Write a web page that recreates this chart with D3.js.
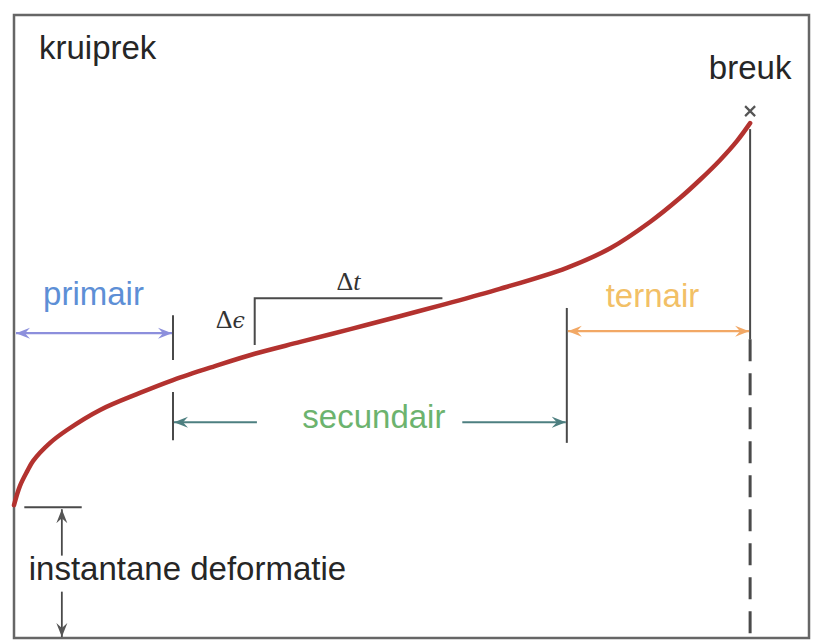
<!DOCTYPE html>
<html>
<head>
<meta charset="utf-8">
<script src="https://cdn.jsdelivr.net/npm/d3@7"></script>
<style>
  body { margin: 0; background: #fff; }
  svg { display: block; }
  text { font-family: "Liberation Sans", Arial, sans-serif; }
</style>
</head>
<body>
<div id="chart"></div>
<script>
// kruipkromme: rek tegen tijd (tijd en rek in willekeurige eenheden, breuk bij t = 100)
const time   = [0, 0.8, 1.8, 2.6, 4.9, 7.2, 11.7, 17.1, 21.6, 27.3, 32.7, 38.9, 45.7, 52.4, 58.2, 66.0, 75.1, 81.0, 86.4, 90.5, 93.2, 95.9, 98.2, 100];
const strain = [25.8, 29.5, 32.4, 34.4, 37.9, 40.4, 44.3, 47.6, 50.1, 52.8, 55.2, 57.5, 60.0, 62.5, 64.7, 67.8, 71.9, 75.7, 80.8, 85.5, 89.0, 92.8, 96.5, 100];

const phases     = ["primair", "secundair", "ternair"];
const phaseStart = [0, 21.6, 75.1];
const phaseEnd   = [21.6, 75.1, 100];
const phaseLevel = [59.2, 41.9, 59.6];

const instantStrain = 25.4;
const breakTime = 100;
const breakStrain = 100;

// hellingsdriehoek secundair gebied
const slopeT = [32.7, 58.2];
const slopeE = [56.9, 66.0];

const width = 821, height = 640;

const x = d3.scaleLinear().domain([0, 108]).range([14, 809]);
const y = d3.scaleLinear().domain([0, 121]).range([638, 15]);

const svg = d3.select("#chart").append("svg")
    .attr("width", width)
    .attr("height", height);

const defs = svg.append("defs");
const arrowColors = { prim: "#8c8fdc", sec: "#4d7f80", ter: "#f2a865", gray: "#555" };
Object.entries(arrowColors).forEach(([k, c]) => {
    defs.append("marker")
        .attr("id", "head-" + k)
        .attr("viewBox", "-14 -7 16 14")
        .attr("refX", 0).attr("refY", 0)
        .attr("markerWidth", 16).attr("markerHeight", 14)
        .attr("markerUnits", "userSpaceOnUse")
        .attr("orient", "auto-start-reverse")
        .append("path")
        .attr("d", "M0,0 L-14,-5.5 L-9,0 L-14,5.5 Z")
        .attr("fill", c);
});

// kader
svg.append("rect")
    .attr("x", x(0)).attr("y", y(121))
    .attr("width", x(108) - x(0))
    .attr("height", y(0) - y(121))
    .attr("fill", "none")
    .attr("stroke", "#666")
    .attr("stroke-width", 2.5);

const dark = "#4a4a4a";

// verticale lijn bij breuk: doorgetrokken en daarna gestippeld
svg.append("line")
    .attr("x1", x(breakTime)).attr("x2", x(breakTime))
    .attr("y1", y(breakStrain) + 6).attr("y2", y(58))
    .attr("stroke", dark).attr("stroke-width", 2);
svg.append("line")
    .attr("x1", x(breakTime)).attr("x2", x(breakTime))
    .attr("y1", y(58)).attr("y2", y(0))
    .attr("stroke", dark).attr("stroke-width", 3)
    .attr("stroke-dasharray", "22,12");

// grenzen tussen de fasen
svg.append("line")
    .attr("x1", x(phaseEnd[0])).attr("x2", x(phaseEnd[0]))
    .attr("y1", y(62.7)).attr("y2", y(54.0))
    .attr("stroke", dark).attr("stroke-width", 2);
svg.append("line")
    .attr("x1", x(phaseStart[1])).attr("x2", x(phaseStart[1]))
    .attr("y1", y(47.8)).attr("y2", y(38.4))
    .attr("stroke", dark).attr("stroke-width", 2);
svg.append("line")
    .attr("x1", x(phaseEnd[1])).attr("x2", x(phaseEnd[1]))
    .attr("y1", y(64.1)).attr("y2", y(37.9))
    .attr("stroke", dark).attr("stroke-width", 2);

// pijlen per fase
const arrow = (x1, x2, yy, color, key, both) => {
    const l = svg.append("line")
        .attr("x1", x1).attr("x2", x2)
        .attr("y1", yy).attr("y2", yy)
        .attr("stroke", color).attr("stroke-width", 2.2)
        .attr("marker-end", "url(#head-" + key + ")");
    if (both) l.attr("marker-start", "url(#head-" + key + ")");
    return l;
};

arrow(x(phaseStart[0]) + 2, x(phaseEnd[0]) - 1, y(phaseLevel[0]), arrowColors.prim, "prim", true);
arrow(x(phaseStart[2]) + 1, x(phaseEnd[2]) - 1, y(phaseLevel[2]), arrowColors.ter, "ter", true);
arrow(x(33.0), x(phaseStart[1]) + 1, y(phaseLevel[1]), arrowColors.sec, "sec", false);
arrow(x(60.9), x(phaseEnd[1]) - 1, y(phaseLevel[1]), arrowColors.sec, "sec", false);

const phaseColors = ["#5d8fd6", "#6cb36e", "#f2c066"];
svg.selectAll(".phase-label")
    .data(phases)
    .join("text")
    .attr("class", "phase-label")
    .attr("x", (d, i) => x((phaseStart[i] + phaseEnd[i]) / 2) + [0, 4, -6][i])
    .attr("y", (d, i) => y(phaseLevel[i]) + [-28, 6, -24][i])
    .attr("text-anchor", "middle")
    .attr("font-size", 33)
    .attr("fill", (d, i) => phaseColors[i])
    .text(d => d);

// hellingsdriehoek
svg.append("path")
    .attr("d", `M${x(slopeT[0])},${y(slopeE[0])} L${x(slopeT[0])},${y(slopeE[1])} L${x(slopeT[1])},${y(slopeE[1])}`)
    .attr("fill", "none")
    .attr("stroke", dark).attr("stroke-width", 2);

const serif = '"Liberation Serif", "DejaVu Serif", serif';
const de = svg.append("text")
    .attr("x", x(slopeT[0]) - 10)
    .attr("y", y((slopeE[0] + slopeE[1]) / 2) + 6)
    .attr("text-anchor", "end")
    .attr("font-size", 26)
    .attr("fill", "#333")
    .style("font-family", serif);
de.append("tspan").text("Δ");
de.append("tspan").attr("font-style", "italic").style("font-family", '"DejaVu Serif", serif').attr("font-size", 22).text("ϵ");

const dt = svg.append("text")
    .attr("x", (x(slopeT[0]) + x(slopeT[1])) / 2)
    .attr("y", y(slopeE[1]) - 8)
    .attr("text-anchor", "middle")
    .attr("font-size", 26)
    .attr("fill", "#333")
    .style("font-family", serif);
dt.append("tspan").text("Δ");
dt.append("tspan").attr("font-style", "italic").text("t");

// instantane deformatie
svg.append("line")
    .attr("x1", x(1.4)).attr("x2", x(9.2))
    .attr("y1", y(instantStrain)).attr("y2", y(instantStrain))
    .attr("stroke", dark).attr("stroke-width", 2);
svg.append("line")
    .attr("x1", x(6.5)).attr("x2", x(6.5))
    .attr("y1", y(16.0)).attr("y2", y(instantStrain) + 2)
    .attr("stroke", dark).attr("stroke-width", 1.8)
    .attr("marker-end", "url(#head-gray)");
svg.append("line")
    .attr("x1", x(6.5)).attr("x2", x(6.5))
    .attr("y1", y(9.0)).attr("y2", y(0) - 1)
    .attr("stroke", dark).attr("stroke-width", 1.8)
    .attr("marker-end", "url(#head-gray)");
svg.append("text")
    .attr("x", x(2.0))
    .attr("y", y(11.3))
    .attr("font-size", 33)
    .attr("fill", "#262626")
    .text("instantane deformatie");

// de kruipkromme
const curveData = time.map((t, i) => [t, strain[i]]);
svg.append("path")
    .datum(curveData)
    .attr("fill", "none")
    .attr("stroke", "#b3322f")
    .attr("stroke-width", 4.5)
    .attr("stroke-linecap", "round")
    .attr("d", d3.line().x(d => x(d[0])).y(d => y(d[1])).curve(d3.curveCatmullRom.alpha(0.5)));

// breukpunt
const bx = x(breakTime), by = y(breakStrain) - 12;
svg.append("path")
    .attr("d", `M${bx - 5},${by - 5} L${bx + 5},${by + 5} M${bx - 5},${by + 5} L${bx + 5},${by - 5}`)
    .attr("stroke", "#555").attr("stroke-width", 2.2);

svg.append("text")
    .attr("x", bx)
    .attr("y", 79)
    .attr("text-anchor", "middle")
    .attr("font-size", 33)
    .attr("fill", "#262626")
    .text("breuk");

svg.append("text")
    .attr("x", 39)
    .attr("y", 59)
    .attr("font-size", 33)
    .attr("fill", "#262626")
    .text("kruiprek");
</script>
</body>
</html>
